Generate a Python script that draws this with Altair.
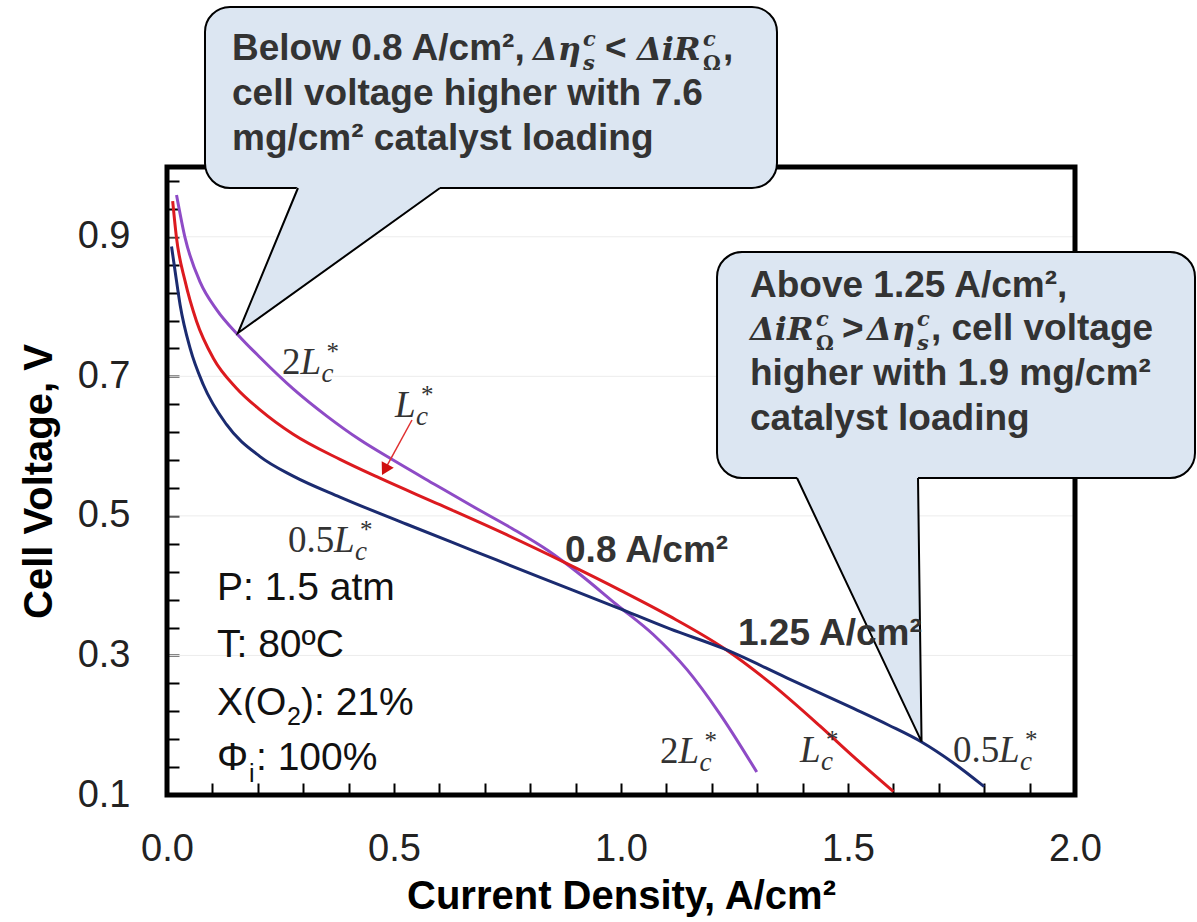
import altair as alt
import pandas as pd

# ---------------- data ----------------
series_names = ["2L*c", "L*c", "0.5L*c"]
series_colors = ["#8e4bc6", "#dc1a1f", "#1b2b70"]

current_2L = [0.021, 0.040, 0.073, 0.110, 0.157, 0.205, 0.278, 0.352, 0.425, 0.498,
              0.590, 0.675, 0.760, 0.840, 0.910, 0.990, 1.071, 1.145, 1.218, 1.299]
voltage_2L = [0.960, 0.898, 0.835, 0.795, 0.759, 0.727, 0.682, 0.643, 0.609, 0.580,
              0.545, 0.513, 0.482, 0.450, 0.416, 0.373, 0.330, 0.280, 0.216, 0.133]

current_L = [0.0125, 0.021, 0.040, 0.065, 0.102, 0.153, 0.205, 0.278, 0.381, 0.469,
             0.601, 0.748, 0.880, 1.000, 1.108, 1.225, 1.328, 1.438, 1.512, 1.600]
voltage_L = [0.951, 0.898, 0.836, 0.779, 0.726, 0.683, 0.652, 0.617, 0.581, 0.554,
             0.516, 0.473, 0.432, 0.393, 0.356, 0.311, 0.261, 0.199, 0.155, 0.105]

current_05L = [0.010, 0.018, 0.029, 0.051, 0.080, 0.131, 0.205, 0.278, 0.381, 0.528,
               0.675, 0.822, 0.990, 1.108, 1.225, 1.365, 1.512, 1.590, 1.662, 1.730, 1.800]
voltage_05L = [0.886, 0.850, 0.802, 0.740, 0.688, 0.631, 0.585, 0.557, 0.527, 0.488,
               0.450, 0.412, 0.369, 0.338, 0.310, 0.268, 0.224, 0.200, 0.176, 0.147, 0.112]

x_tick_values = [0.0, 0.1, 0.2, 0.3, 0.4, 0.5, 0.6, 0.7, 0.8, 0.9, 1.0,
                 1.1, 1.2, 1.3, 1.4, 1.5, 1.6, 1.7, 1.8, 1.9, 2.0]
x_tick_labels = [0.0, 0.5, 1.0, 1.5, 2.0]
y_tick_values = [0.10, 0.14, 0.18, 0.22, 0.26, 0.30, 0.34, 0.38, 0.42, 0.46, 0.50, 0.54,
                 0.58, 0.62, 0.66, 0.70, 0.74, 0.78, 0.82, 0.86, 0.90, 0.94, 0.98]
y_tick_labels = [0.1, 0.3, 0.5, 0.7, 0.9]

# ---------------- layout constants ----------------
W, H = 908, 628
X_DOMAIN = [0.0, 2.0]
V_DOMAIN = [0.1, 1.0]
PX_X = W / (X_DOMAIN[1] - X_DOMAIN[0])
PX_V = H / (V_DOMAIN[1] - V_DOMAIN[0])


def shift(x, v, dx=0.0, dy=0.0):
    """offset an annotation anchor (data units) by a few pixels"""
    return x + dx / PX_X, v - dy / PX_V


SANS = "Liberation Sans"
SERIF = "Liberation Serif"
MATH = "DejaVu Serif"

xs = alt.Scale(domain=X_DOMAIN, nice=False, zero=False)
ys = alt.Scale(domain=V_DOMAIN, nice=False, zero=False)


def js_list(vals):
    return "[" + ",".join(repr(float(v)) for v in vals) + "]"


x_axis = alt.Axis(
    values=x_tick_values,
    labelExpr="indexof(" + js_list(x_tick_labels) + ", round(datum.value*10)/10) >= 0 ? format(datum.value, '.1f') : ''",
    title="Current Density, A/cm²",
    offset=-12, tickSize=12, tickWidth=2, tickColor="black",
    domain=False, grid=False,
    labelFont=SANS, labelFontSize=38, labelColor="#222222", labelPadding=35,
    labelFlush=False, labelOverlap=False,
    titleFont=SANS, titleFontSize=40, titleFontWeight="bold", titleColor="black",
    titlePadding=8,
)
y_axis = alt.Axis(
    values=y_tick_values,
    labelExpr="indexof(" + js_list(y_tick_labels) + ", round(datum.value*100)/100) >= 0 ? format(datum.value, '.1f') : ''",
    title="Cell Voltage, V",
    offset=-12, tickSize=12, tickWidth=2, tickColor="black",
    domain=False, grid=False,
    labelFont=SANS, labelFontSize=38, labelColor="#222222", labelPadding=37,
    labelFlush=False, labelOverlap=False,
    titleFont=SANS, titleFontSize=40, titleFontWeight="bold", titleColor="black",
    titlePadding=18,
)


def X(f="x"):
    return alt.X(f + ":Q", scale=xs, axis=x_axis)


def Y(f="v"):
    return alt.Y(f + ":Q", scale=ys, axis=y_axis)


# ---------------- curves ----------------
rows = []
for name, cx, cv in zip(series_names, [current_2L, current_L, current_05L],
                        [voltage_2L, voltage_L, voltage_05L]):
    for i, (a, b) in enumerate(zip(cx, cv)):
        rows.append({"series": name, "x": a, "v": b, "i": i})
curves_df = pd.DataFrame(rows)

curves = alt.Chart(curves_df).mark_line(strokeWidth=3, interpolate="monotone").encode(
    x=X(), y=Y(),
    color=alt.Color("series:N", scale=alt.Scale(domain=series_names, range=series_colors), legend=None),
    order="i:Q",
)

# faint gridlines at labelled voltages
grid_df = pd.DataFrame({"v": y_tick_labels[1:], "x": [X_DOMAIN[0]] * 4, "x2": [X_DOMAIN[1]] * 4})
grid = alt.Chart(grid_df).mark_rule(color="#ececec", strokeWidth=1).encode(x=X(), x2="x2:Q", y=Y())

# frame
frame_df = pd.DataFrame({"x": [X_DOMAIN[0]], "x2": [X_DOMAIN[1]], "v": [V_DOMAIN[0]], "v2": [V_DOMAIN[1]]})
frame = alt.Chart(frame_df).mark_rect(filled=False, stroke="black", strokeWidth=5).encode(
    x=X(), x2="x2:Q", y=Y(), y2="v2:Q")

# ---------------- callouts ----------------
BOX_FILL = "#dce6f2"
box_df = pd.DataFrame({"x": [0.0837, 1.2115], "x2": [1.3436, 2.2643],
                       "v": [0.9699, 0.5543], "v2": [1.2293, 0.8782]})
boxes = alt.Chart(box_df).mark_rect(cornerRadius=25, fill=BOX_FILL, stroke="black", strokeWidth=2).encode(
    x=X(), x2="x2:Q", y=Y(), y2="v2:Q")

ptr_fill_df = pd.DataFrame({
    "id": [1, 1, 1, 2, 2, 2],
    "x": [0.1564, 0.2885, 0.6013, 1.3877, 1.6542, 1.6620],
    "v": [0.7621, 0.8239, 0.9699, 0.5543, 0.1880, 0.1765],
    "v2": [0.7621, 0.9745, 0.9745, 0.5590, 0.5590, 0.1765],
})
ptr_fill = alt.Chart(ptr_fill_df).mark_area(color=BOX_FILL, opacity=1).encode(
    x=X(), y=Y(), y2="v2:Q", detail="id:N")

ptr_line_df = pd.DataFrame({
    "id": [1, 1, 1, 2, 2, 2],
    "o": [0, 1, 2, 0, 1, 2],
    "x": [0.2885, 0.1564, 0.6013, 1.3877, 1.6620, 1.6542],
    "v": [0.9699, 0.7621, 0.9699, 0.5543, 0.1765, 0.5543],
})
ptr_line = alt.Chart(ptr_line_df).mark_line(color="black", strokeWidth=2).encode(
    x=X(), y=Y(), detail="id:N", order="o:Q")

# ---------------- red arrow to L*c curve ----------------
arrow_df = pd.DataFrame({"x": [0.5396], "v": [0.6374], "x2": [0.4799], "v2": [0.5662]})
arrow_line = alt.Chart(arrow_df).mark_rule(color="#e03030", strokeWidth=1.5).encode(
    x=X(), y=Y(), x2="x2:Q", y2="v2:Q")
arrow_head = alt.Chart(arrow_df).mark_point(shape="triangle-up", filled=True, color="#d01010",
                                            size=190, angle=208.6, opacity=1).encode(
    x=X("x2"), y=Y("v2"))

# ---------------- text ----------------
styles = {
    "bold": dict(font=SANS, fontSize=37, fontWeight="bold", color="#333333"),
    "math": dict(font=MATH, fontSize=32, fontWeight="bold", fontStyle="italic", color="#333333"),
    "script": dict(font=MATH, fontSize=21, fontWeight="bold", fontStyle="italic", color="#333333"),
    "script_up": dict(font=MATH, fontSize=20, fontWeight="bold", color="#333333"),
    "cond": dict(font=SANS, fontSize=39, color="#111111"),
    "cond_sub": dict(font=SANS, fontSize=25, color="#111111"),
    "lab_num": dict(font=SERIF, fontSize=37, color="#333333"),
    "lab_it": dict(font=SERIF, fontSize=37, fontStyle="italic", color="#333333"),
    "lab_star": dict(font=SERIF, fontSize=25, color="#333333"),
    "lab_sub": dict(font=SERIF, fontSize=27, fontStyle="italic", color="#333333"),
}

# anchors (left, baseline) in data units
L1, L2, L3 = 1.1534, 1.0889, 1.0244
R1, R2, R3, R4 = 0.8137, 0.7521, 0.6876, 0.6231

pieces = [
    # callout 1
    ("Below 0.8 A/cm²,", 0.1432, L1, "bold"),
    ("Δη", 0.8062, L1, "math"),
    ("c", *shift(0.8062, L1, 50, -14), "script"),
    ("s", *shift(0.8062, L1, 50, 10), "script"),
    ("<", 0.9648, L1, "bold"),
    ("ΔiR", 1.0352, L1, "math"),
    ("c", *shift(1.0352, L1, 66, -14), "script"),
    ("Ω", *shift(1.0352, L1, 66, 10), "script_up"),
    (",", *shift(1.0352, L1, 86, 0), "bold"),
    ("cell voltage higher with 7.6", 0.1432, L2, "bold"),
    ("mg/cm² catalyst loading", 0.1432, L3, "bold"),
    # callout 2
    ("Above 1.25 A/cm²,", 1.2841, R1, "bold"),
    ("ΔiR", 1.2841, R2, "math"),
    ("c", *shift(1.2841, R2, 66, -14), "script"),
    ("Ω", *shift(1.2841, R2, 66, 10), "script_up"),
    (">", *shift(1.2841, R2, 92, 0), "bold"),
    ("Δη", *shift(1.2841, R2, 117, 0), "math"),
    ("c", *shift(1.2841, R2, 167, -14), "script"),
    ("s", *shift(1.2841, R2, 167, 10), "script"),
    (", cell voltage", *shift(1.2841, R2, 181, 0), "bold"),
    ("higher with 1.9 mg/cm²", 1.2841, R3, "bold"),
    ("catalyst loading", 1.2841, R4, "bold"),
    # crossing points
    ("0.8 A/cm²", 0.8767, 0.4339, "bold"),
    ("1.25 A/cm²", 1.2577, 0.3150, "bold"),
    # operating conditions
    ("P: 1.5 atm", 0.1101, 0.3795, "cond"),
    ("T: 80ºC", 0.1101, 0.2978, "cond"),
    ("X(O", 0.1101, 0.2147, "cond"),
    ("2", *shift(0.1101, 0.2147, 70, 10), "cond_sub"),
    ("): 21%", *shift(0.1101, 0.2147, 84, 0), "cond"),
    ("Φ", 0.1101, 0.1358, "cond"),
    ("i", *shift(0.1101, 0.1358, 32, 12), "cond_sub"),
    (": 100%", *shift(0.1101, 0.1358, 39, 0), "cond"),
]


def math_label(prefix, x, v):
    pw = {"": 0.0, "2": 18.5, "0.5": 46.0}[prefix]
    out = []
    if prefix:
        out.append((prefix, x, v, "lab_num"))
    out.append(("L", *shift(x, v, pw), "lab_it"))
    out.append(("*", *shift(x, v, pw + 26, -14), "lab_star"))
    out.append(("c", *shift(x, v, pw + 21, 8), "lab_sub"))
    return out


pieces += math_label("2", 0.2533, 0.7033)
pieces += math_label("", 0.5022, 0.6417)
pieces += math_label("0.5", 0.2665, 0.4483)
pieces += math_label("2", 1.0859, 0.1459)
pieces += math_label("", 1.3943, 0.1473)
pieces += math_label("0.5", 1.7313, 0.1473)

text_df = pd.DataFrame(pieces, columns=["text", "x", "v", "style"])
text_layers = []
for key, st in styles.items():
    sub = text_df[text_df["style"] == key]
    if len(sub) == 0:
        continue
    text_layers.append(
        alt.Chart(sub).mark_text(align="left", baseline="alphabetic", **st).encode(
            x=X(), y=Y(), text="text:N")
    )

chart = alt.layer(
    grid, curves, frame, arrow_line, arrow_head, boxes, ptr_fill, ptr_line, *text_layers
).properties(
    width=W, height=H,
    autosize=alt.AutoSizeParams(type="none"),
    padding={"left": 167, "top": 167, "right": 122, "bottom": 127},
    background="white",
).configure_view(stroke=None)

chart.save("out.html", embed_options={"renderer": "svg", "actions": False})
